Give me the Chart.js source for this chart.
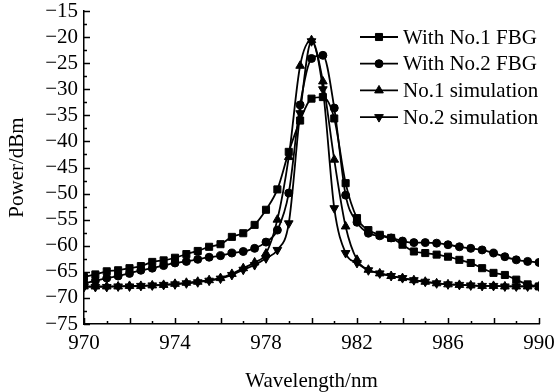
<!DOCTYPE html>
<html>
<head>
<meta charset="utf-8">
<script src="https://cdn.jsdelivr.net/npm/chart.js"></script>
<style>
  html, body { margin: 0; padding: 0; background: #fff; }
  canvas { display: block; }
</style>
</head>
<body>
<canvas id="c" width="556" height="392"></canvas>
<script>
// wavelength sample points (nm)
const wavelengths = [970, 970.5, 971, 971.5, 972, 972.5, 973, 973.5, 974, 974.5,
  975, 975.5, 976, 976.5, 977, 977.5, 978, 978.5, 979, 979.5,
  980, 980.5, 981, 981.5, 982, 982.5, 983, 983.5, 984, 984.5,
  985, 985.5, 986, 986.5, 987, 987.5, 988, 988.5, 989, 989.5, 990];

// power readings (dBm)
const fbg1 = [-66.0, -65.5, -64.9, -64.7, -64.3, -63.9, -63.1, -62.8, -62.3, -61.6,
  -61.0, -60.2, -59.7, -58.3, -57.6, -56.0, -53.1, -49.2, -42.0, -36.0,
  -31.8, -31.5, -35.6, -48.0, -54.7, -57.0, -57.9, -58.5, -59.8, -61.1,
  -61.4, -61.7, -62.1, -62.7, -63.3, -64.3, -65.2, -65.6, -66.5, -67.4, -67.8];
const fbg2 = [-67.2, -66.7, -66.2, -65.8, -65.3, -64.7, -64.3, -63.8, -63.3, -63.0,
  -62.6, -62.2, -61.9, -61.4, -61.1, -60.5, -59.3, -57.0, -49.9, -33.0,
  -24.1, -23.5, -33.6, -50.3, -55.5, -57.6, -58.1, -58.5, -59.1, -59.4,
  -59.4, -59.5, -59.8, -60.2, -60.5, -60.8, -61.4, -62.1, -62.7, -63.0, -63.2];
const sim1 = [-67.8, -67.8, -67.8, -67.8, -67.7, -67.7, -67.6, -67.5, -67.3, -67.1,
  -66.9, -66.6, -66.2, -65.4, -64.3, -63.2, -61.5, -55.0, -43.0, -25.5,
  -20.6, -28.5, -43.5, -56.3, -62.7, -64.6, -65.3, -65.8, -66.2, -66.6,
  -66.9, -67.2, -67.4, -67.5, -67.6, -67.7, -67.7, -67.8, -67.8, -67.8, -67.8];
const sim2 = [-67.9, -67.9, -67.9, -67.8, -67.8, -67.7, -67.6, -67.5, -67.4, -67.2,
  -67.0, -66.7, -66.3, -65.6, -64.6, -63.7, -62.4, -60.8, -55.7, -34.6,
  -20.8, -30.0, -52.8, -61.4, -63.3, -64.7, -65.3, -65.8, -66.2, -66.6,
  -66.9, -67.2, -67.4, -67.5, -67.6, -67.7, -67.7, -67.8, -67.8, -67.8, -67.8];

const labels = ['With No.1 FBG', 'With No.2 FBG', 'No.1 simulation', 'No.2 simulation'];

const FONT = '"Liberation Serif", "Times New Roman", serif';

function series(label, values, style, radius, rotation) {
  return {
    label: label,
    data: wavelengths.map((w, i) => ({ x: w, y: values[i] })),
    borderColor: '#000',
    backgroundColor: '#000',
    borderWidth: 1.8,
    pointStyle: style,
    pointRadius: radius,
    pointRotation: rotation || 0,
    pointBorderWidth: 1,
    cubicInterpolationMode: 'monotone',
    fill: false
  };
}

// 内向刻度
const innerTicks = {
  id: 'innerTicks',
  afterDraw(chart) {
    const ctx = chart.ctx;
    const xs = chart.scales.x, ys = chart.scales.y;
    const area = chart.chartArea;
    ctx.save();
    ctx.strokeStyle = '#000';
    ctx.lineWidth = 1.5;
    ctx.beginPath();
    for (let v = 970; v <= 990; v++) {
      const px = Math.round(xs.getPixelForValue(v)) + 0.5;
      const len = v % 2 === 0 ? 6 : 3;
      ctx.moveTo(px, area.bottom);
      ctx.lineTo(px, area.bottom - len);
    }
    for (let v = -75; v <= -15; v += 2.5) {
      const py = Math.round(ys.getPixelForValue(v)) + 0.5;
      const len = v % 5 === 0 ? 6 : 3;
      ctx.moveTo(area.left, py);
      ctx.lineTo(area.left + len, py);
    }
    ctx.stroke();
    ctx.restore();
  }
};

// 图例：线段 + 标记
const lineLegend = {
  id: 'lineLegend',
  afterDraw(chart) {
    const ctx = chart.ctx;
    chart.data.datasets.forEach((ds, i) => {
      const y = 37 + i * 26.7;
      ctx.save();
      ctx.strokeStyle = '#000';
      ctx.fillStyle = '#000';
      ctx.lineWidth = 1.8;
      ctx.beginPath();
      ctx.moveTo(360, y);
      ctx.lineTo(398, y);
      ctx.stroke();
      ctx.lineWidth = 1;
      Chart.helpers.drawPoint(ctx, {
        pointStyle: ds.pointStyle,
        rotation: ds.pointRotation,
        radius: ds.pointRadius,
        borderWidth: 1
      }, 379, y);
      ctx.font = '21px ' + FONT;
      ctx.textBaseline = 'middle';
      ctx.textAlign = 'left';
      ctx.fillText(ds.label, 403, y + 1);
      ctx.restore();
    });
  }
};

new Chart(document.getElementById('c'), {
  type: 'line',
  data: {
    datasets: [
      series(labels[0], fbg1, 'rect', 5),
      series(labels[1], fbg2, 'circle', 4),
      series(labels[2], sim1, 'triangle', 5),
      series(labels[3], sim2, 'triangle', 5, 180)
    ]
  },
  options: {
    responsive: false,
    animation: false,
    layout: { padding: { top: 11, right: 17, left: 0, bottom: 0 } },
    plugins: {
      legend: { display: false },
      tooltip: { enabled: false }
    },
    scales: {
      x: {
        type: 'linear',
        min: 970,
        max: 990,
        grid: { display: false, drawTicks: false },
        border: { display: true, color: '#000', width: 1.5 },
        ticks: {
          stepSize: 4,
          color: '#000',
          padding: 7,
          maxRotation: 0,
          autoSkip: false,
          font: { family: FONT, size: 21 }
        },
        title: {
          display: true,
          text: 'Wavelength/nm',
          color: '#000',
          padding: { top: 0, bottom: -2 },
          font: { family: FONT, size: 21 }
        },
        afterFit(scale) {
          scale.height = 68;
          scale.paddingLeft = 0;
          scale.paddingRight = 0;
        }
      },
      y: {
        min: -75,
        max: -15,
        grid: { display: false, drawTicks: false },
        border: { display: true, color: '#000', width: 1.5 },
        ticks: {
          stepSize: 5,
          color: '#000',
          padding: 6,
          autoSkip: false,
          font: { family: FONT, size: 21 },
          callback: v => String(v).replace('-', '\u2212')
        },
        title: {
          display: true,
          text: 'Power/dBm',
          color: '#000',
          padding: { top: 5, bottom: 0 },
          font: { family: FONT, size: 21 }
        },
        afterFit(scale) {
          scale.width = 84;
          scale.paddingTop = 0;
          scale.paddingBottom = 0;
        }
      }
    }
  },
  plugins: [innerTicks, lineLegend]
});
</script>
</body>
</html>
